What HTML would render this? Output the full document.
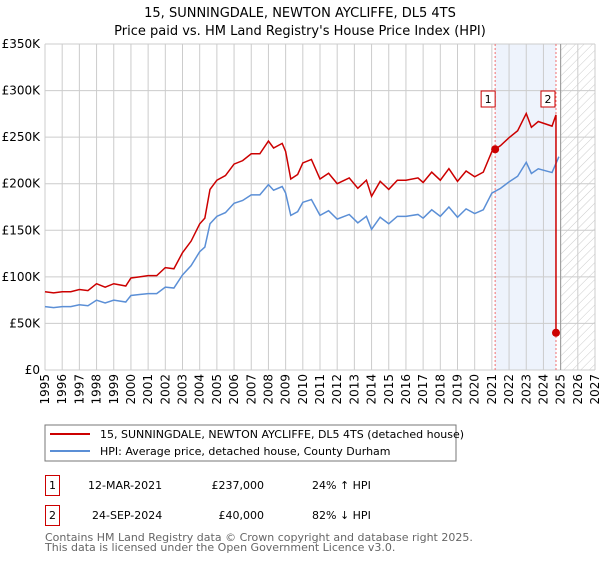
<!DOCTYPE html>
<html><head><meta charset="utf-8"><style>
body{margin:0;background:#fff;font-family:"Liberation Sans","DejaVu Sans",sans-serif}
svg text{font-family:"DejaVu Sans","Liberation Sans",sans-serif}
</style></head><body>
<svg id="c" width="600" height="560" viewBox="0 0 600 560">
<defs><pattern id="hatch" width="6" height="6" patternUnits="userSpaceOnUse" patternTransform="rotate(45)"><line x1="0" y1="0" x2="0" y2="6" stroke="#ccc" stroke-width="1"/></pattern></defs>
<text x="300" y="17" text-anchor="middle" font-size="13">15, SUNNINGDALE, NEWTON AYCLIFFE, DL5 4TS</text>
<text x="300" y="35" text-anchor="middle" font-size="13">Price paid vs. HM Land Registry's House Price Index (HPI)</text>
<g id="plot"></g>
<rect x="45" y="425" width="411" height="36" fill="#fff" stroke="#777"/>
<line x1="50" y1="434" x2="90" y2="434" stroke="#cc0000" stroke-width="2"/>
<text x="100" y="438" font-size="11">15, SUNNINGDALE, NEWTON AYCLIFFE, DL5 4TS (detached house)</text>
<line x1="50" y1="451" x2="90" y2="451" stroke="#5b8fd6" stroke-width="2"/>
<text x="100" y="455" font-size="11">HPI: Average price, detached house, County Durham</text>
<g font-size="11">
<rect x="45.5" y="475.5" width="14" height="20" fill="none" stroke="#cc0000"/>
<text x="52.5" y="489" text-anchor="middle">1</text>
<text x="88" y="489">12-MAR-2021</text>
<text x="264" y="489" text-anchor="end">£237,000</text>
<text x="312" y="489">24% ↑ HPI</text>
<rect x="45.5" y="505.5" width="14" height="20" fill="none" stroke="#cc0000"/>
<text x="52.5" y="519" text-anchor="middle">2</text>
<text x="92" y="519">24-SEP-2024</text>
<text x="264" y="519" text-anchor="end">£40,000</text>
<text x="312" y="519">82% ↓ HPI</text>
</g>
<text x="45" y="541" font-size="11" fill="#666">Contains HM Land Registry data © Crown copyright and database right 2025.</text>
<text x="45" y="551" font-size="11" fill="#666">This data is licensed under the Open Government Licence v3.0.</text>
</svg>
<script>
const hpiYears=[1995,1995.5,1996,1996.5,1997,1997.5,1998,1998.5,1999,1999.7,2000,2000.5,2001,2001.5,2002,2002.5,2003,2003.5,2004,2004.3,2004.6,2005,2005.5,2006,2006.5,2007,2007.5,2008,2008.3,2008.8,2009,2009.3,2009.7,2010,2010.5,2011,2011.5,2012,2012.7,2013.2,2013.7,2014,2014.5,2015,2015.5,2016,2016.7,2017,2017.5,2018,2018.5,2019,2019.5,2020,2020.5,2021,2021.5,2022,2022.5,2023,2023.3,2023.7,2024.5,2024.9];
const hpiValues=[68,67,68,68,70,69,75,72,75,73,80,81,82,82,89,88,102,112,127,132,157,165,169,179,182,188,188,199,193,197,190,166,170,180,183,166,171,162,167,158,165,151,164,157,165,165,167,163,172,165,175,164,173,168,172,190,195,202,208,223,211,216,212,229];
const saleDates=[2021.19,2024.73];
const salePrices=[237,40];
const yTicks=[0,50,100,150,200,250,300,350];
const xTicks=[1995,1996,1997,1998,1999,2000,2001,2002,2003,2004,2005,2006,2007,2008,2009,2010,2011,2012,2013,2014,2015,2016,2017,2018,2019,2020,2021,2022,2023,2024,2025,2026,2027];
const X0=45,X1=595,Y0=370,Y1=44;
const xs=y=>X0+(y-1995)/(2027-1995)*(X1-X0);
const ys=v=>Y0-v/350*(Y0-Y1);
const NS='http://www.w3.org/2000/svg';
const g=document.getElementById('plot');
function mk(t,a,p){const e=document.createElementNS(NS,t);for(const k in a)e.setAttribute(k,a[k]);(p||g).appendChild(e);return e;}
// shaded region between sales
let e=mk('rect',{x:xs(saleDates[0]),y:Y1,width:xs(saleDates[1])-xs(saleDates[0]),height:Y0-Y1,fill:'#eef3fc'});


e=mk('rect',{x:xs(2025),y:Y1,width:X1-xs(2025),height:Y0-Y1,fill:'url(#hatch)'});


xTicks.forEach(t=>{
 const l=mk('line',{x1:xs(t),x2:xs(t),y1:Y1,y2:Y0,stroke:'#ccc'});
 
 
 const tx=mk('text',{x:0,y:0,'font-size':12,'text-anchor':'end',transform:`translate(${xs(t)+4},374) rotate(-90)`});
 tx.textContent=t;
 
 
});
yTicks.forEach(t=>{
 const l=mk('line',{x1:X0,x2:X1,y1:ys(t),y2:ys(t),stroke:'#ccc'});
 
 
 const tx=mk('text',{x:40,y:ys(t)+4,'font-size':12,'text-anchor':'end'});
 tx.textContent=t===0?'£0':'£'+t+'K';
 
 
});
e=mk('line',{x1:xs(2025),x2:xs(2025),y1:Y1,y2:Y0,stroke:'#999'});


saleDates.forEach((d,i)=>{
 const l=mk('line',{x1:xs(d),x2:xs(d),y1:Y1,y2:Y0,stroke:'#f07070','stroke-dasharray':'2,2'});
 
 
});
// HPI line
let hp=hpiYears.map((y,i)=>xs(y)+','+ys(hpiValues[i])).join(' ');
e=mk('polyline',{points:hp,fill:'none',stroke:'#5b8fd6','stroke-width':1.5});


// price paid line: HPI indexed from sale 1
function hpiAt(t){for(let i=1;i<hpiYears.length;i++){if(t<=hpiYears[i]){const f=(t-hpiYears[i-1])/(hpiYears[i]-hpiYears[i-1]);return hpiValues[i-1]+f*(hpiValues[i]-hpiValues[i-1]);}}return hpiValues[hpiValues.length-1];}
const ratio=salePrices[0]/hpiAt(saleDates[0]);
let pts=hpiYears.filter(y=>y<saleDates[1]).map(y=>xs(y)+','+ys(hpiAt(y)*ratio));
pts.push(xs(saleDates[1])+','+ys(hpiAt(saleDates[1])*ratio));
pts.push(xs(saleDates[1])+','+ys(salePrices[1]));
e=mk('polyline',{points:pts.join(' '),fill:'none',stroke:'#cc0000','stroke-width':1.5});


saleDates.forEach((d,i)=>{
 const c=mk('circle',{cx:xs(d),cy:ys(salePrices[i]),r:4,fill:'#cc0000'});
 
 
 const bx=xs(d)-14,by=ys(278)-1;
 const r=mk('rect',{x:i===0?bx:bx-1,y:91,width:14,height:16,fill:'#fff',stroke:'#cc0000'});
 
 
 const t=mk('text',{x:(i===0?bx:bx-1)+7,y:103,'font-size':11,'text-anchor':'middle'});
 t.textContent=String(i+1);
 
 
});
</script>
</body></html>
